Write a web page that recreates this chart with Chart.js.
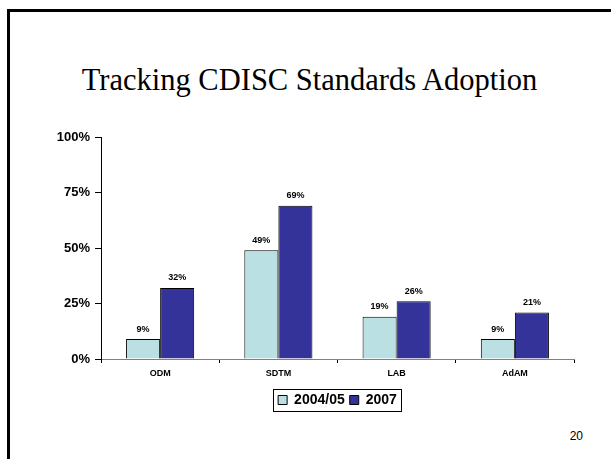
<!DOCTYPE html>
<html>
<head>
<meta charset="utf-8">
<script src="https://cdn.jsdelivr.net/npm/chart.js@4/dist/chart.umd.min.js"></script>
<style>
  html, body { margin: 0; padding: 0; background: #fff; }
  body { width: 611px; height: 459px; position: relative; overflow: hidden; }
  #frame { position: absolute; left: 7px; top: 9px; width: 620px; height: 470px;
           border-left: 3px solid #000; border-top: 3px solid #000; box-sizing: border-box; }
  #title { position: absolute; left: 0; width: 619px; top: 64.5px; text-align: center;
           font-family: 'Liberation Serif', 'Times New Roman', serif; font-size: 30.5px; line-height: 30.5px; color: #000; }
  #page { position: absolute; right: 28px; top: 430px; font-family: 'Liberation Sans', Arial, sans-serif;
          font-size: 12px; line-height: 12px; color: #000; }
  canvas { position: absolute; left: 0; top: 0; }
</style>
</head>
<body>
<div id="frame"></div>
<div id="title">Tracking CDISC Standards Adoption</div>
<div id="page">20</div>
<canvas id="c" width="611" height="459"></canvas>
<script>
const categories = ['ODM', 'SDTM', 'LAB', 'AdAM'];
const series2004 = [9, 49, 19, 9];
const series2007 = [32, 69, 26, 21];
const seriesNames = ['2004/05', '2007'];
const yTicks = [0, 25, 50, 75, 100];

const FONT = "'Liberation Sans', Arial, sans-serif";

const valueLabels = {
  id: 'valueLabels',
  afterDatasetsDraw(chart) {
    const ctx = chart.ctx;
    ctx.save();
    ctx.font = 'bold 9px ' + FONT;
    ctx.fillStyle = '#000';
    ctx.textAlign = 'center';
    ctx.textBaseline = 'middle';
    chart.data.datasets.forEach((ds, i) => {
      const meta = chart.getDatasetMeta(i);
      meta.data.forEach((el, j) => {
        ctx.fillText(ds.data[j] + '%', el.x, el.y - 10);
      });
    });
    ctx.restore();
  }
};

const legendBox = {
  id: 'legendBox',
  afterDraw(chart) {
    const lg = chart.legend;
    if (!lg || !lg.legendHitBoxes || !lg.legendHitBoxes.length) return;
    const hb = lg.legendHitBoxes;
    const first = hb[0], last = hb[hb.length - 1];
    const x0 = first.left - 5;
    const x1 = last.left + last.width + 4;
    const cy = first.top + first.height / 2;
    const ctx = chart.ctx;
    ctx.save();
    ctx.strokeStyle = '#000';
    ctx.lineWidth = 1;
    ctx.strokeRect(Math.round(x0) + 0.5, Math.round(cy - 11) + 0.5, Math.round(x1 - x0), 22);
    ctx.restore();
  }
};

new Chart(document.getElementById('c'), {
  type: 'bar',
  data: {
    labels: categories,
    datasets: [
      { label: seriesNames[0], data: series2004, backgroundColor: '#BBE0E3', borderColor: '#000', borderWidth: 1 },
      { label: seriesNames[1], data: series2007, backgroundColor: '#333399', borderColor: '#000', borderWidth: 1 }
    ]
  },
  options: {
    responsive: false,
    animation: false,
    devicePixelRatio: 1,
    layout: { padding: { left: 0, right: 37, top: 137, bottom: 42 } },
    datasets: { bar: { categoryPercentage: 0.576, barPercentage: 1.0 } },
    plugins: {
      title: { display: false },
      tooltip: { enabled: false },
      legend: {
        display: true,
        position: 'bottom',
        fullSize: false,
        labels: {
          boxWidth: 9, boxHeight: 9, padding: 5, color: '#000',
          font: { family: FONT, size: 14, weight: 'bold' }
        }
      }
    },
    scales: {
      x: {
        grid: { drawOnChartArea: false, drawTicks: true, tickLength: 4, color: '#000', offset: true },
        border: { color: '#808080', width: 1 },
        ticks: { color: '#000', padding: 5, font: { family: FONT, size: 9, weight: 'bold' } },
        afterFit(s) { s.height = 29; }
      },
      y: {
        min: 0, max: 100,
        afterBuildTicks(s) { s.ticks = yTicks.map(v => ({ value: v })); },
        grid: { drawOnChartArea: false, drawTicks: true, tickLength: 6, color: '#000' },
        border: { color: '#000', width: 1 },
        ticks: { color: '#000', padding: 5, font: { family: FONT, size: 13, weight: 'bold' },
                 callback: v => v + '%' },
        afterFit(s) { s.width = 101; }
      }
    }
  },
  plugins: [valueLabels, legendBox]
});
</script>
</body>
</html>
